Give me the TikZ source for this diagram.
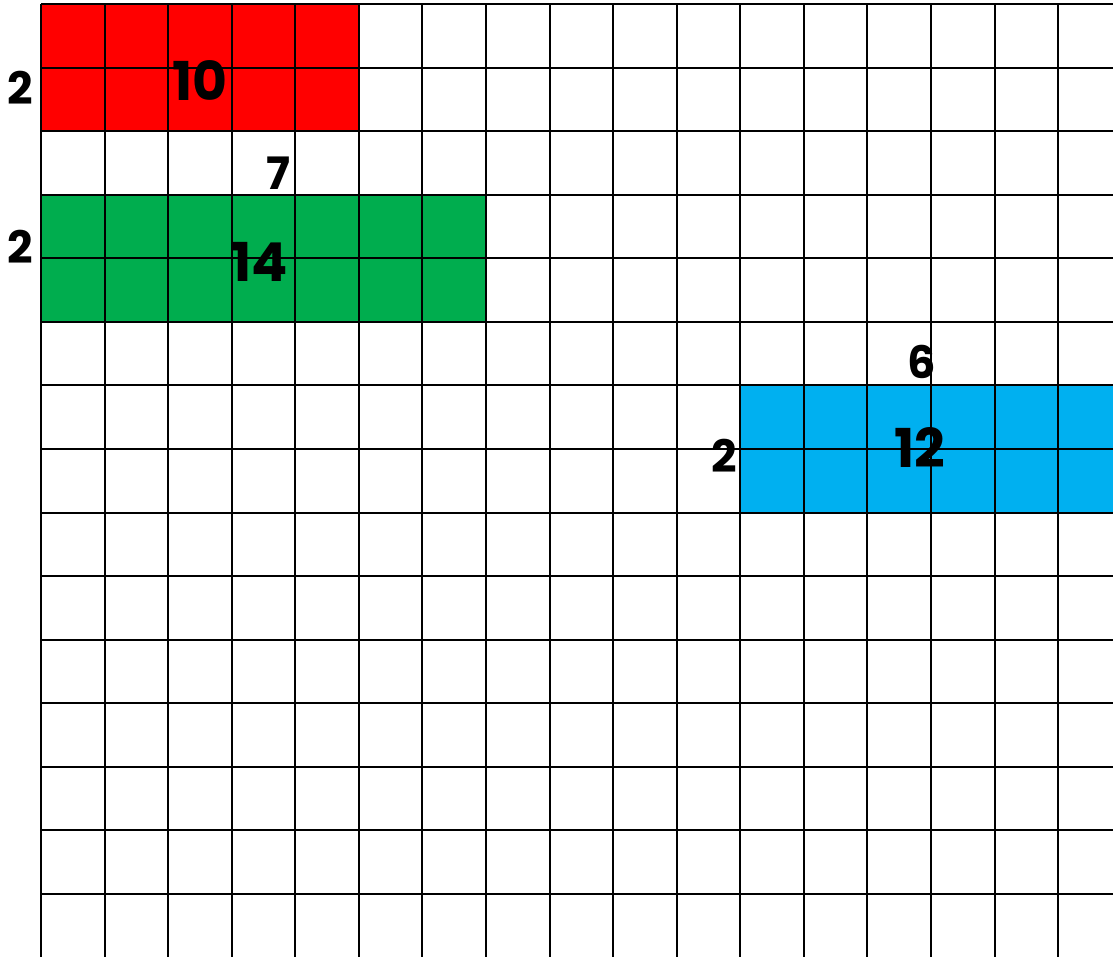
\documentclass[tikz,border=0pt]{standalone}
\usepackage{fontspec}
\setmainfont{Poppins}
\usetikzlibrary{calc}

\definecolor{rectred}{RGB}{255,0,0}
\definecolor{rectgreen}{RGB}{0,173,78}
\definecolor{rectblue}{RGB}{0,176,240}

\begin{document}
\begin{tikzpicture}[font=\bfseries, line width=0.9pt,
    side/.style={font=\fontsize{20}{20}\selectfont\bfseries, inner sep=0pt},
    area/.style={font=\fontsize{24}{24}\selectfont\bfseries, inner sep=0pt}]
  \useasboundingbox (-0.645,-14.976) rectangle (16.863,0.063);
  \clip (-0.645,-14.976) rectangle (16.863,0.063);

  \coordinate (R) at (0,0);
  \coordinate (G) at (0,-3);
  \coordinate (B) at (11,-6);

  \fill[rectred] (R) rectangle ++(5,-2);
  \fill[rectgreen] (G) rectangle ++(7,-2);
  \fill[rectblue] (B) rectangle ++(7,-2);

  % grid
  \foreach \x in {0,...,16}
    \draw (\x,0) -- (\x,-15.5);
  \foreach \y in {0,...,14}
    \draw (0,-\y) -- (17.5,-\y);

  \node[side] (r2) at (-0.33,-1.32) {2};
  \node[area] (r10) at (2.50,-1.20) {10};
  \node[side] (g7) at (3.73,-2.66) {7};
  \node[side] (g2) at (-0.33,-3.82) {2};
  \node[area] (g14) at (3.44,-4.06) {14};
  \node[side] (b6) at (13.86,-5.63) {6};
  \node[side] (b2) at (10.74,-7.11) {2};
  \node[area] (b12) at (13.83,-6.98) {12};
\end{tikzpicture}
\end{document}
